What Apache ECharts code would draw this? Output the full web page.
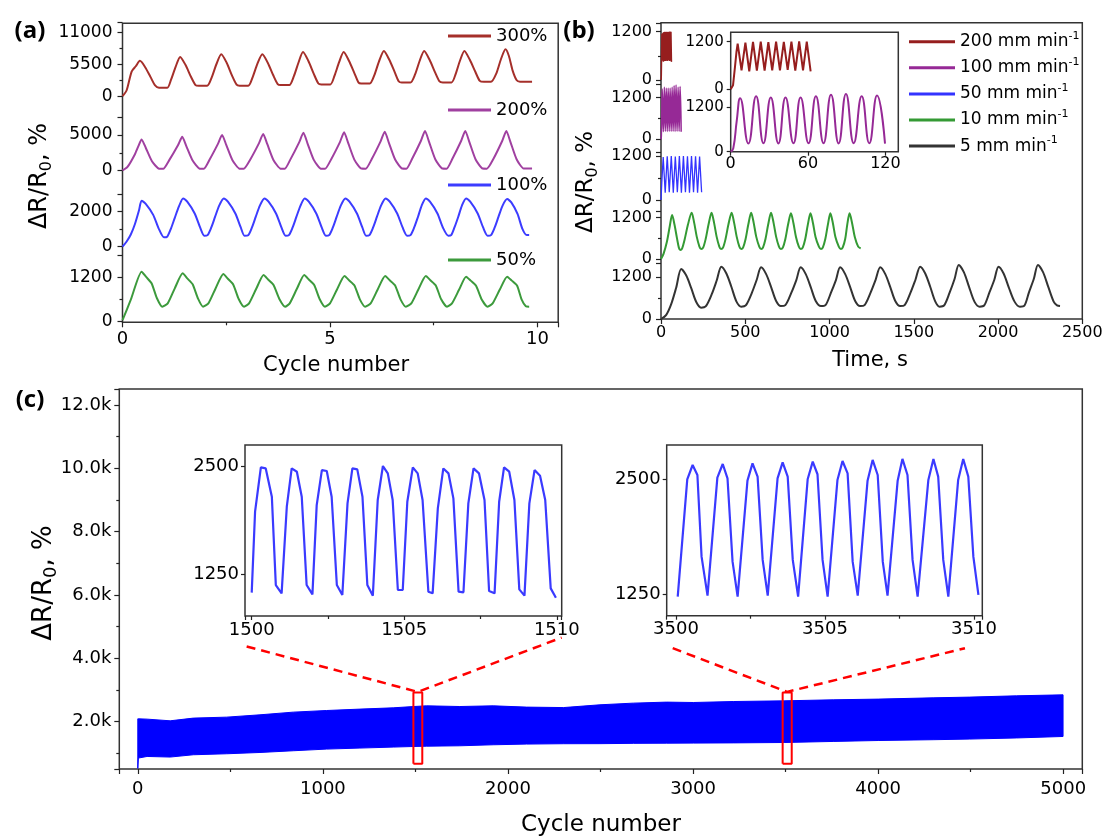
<!DOCTYPE html>
<html>
<head>
<meta charset="utf-8">
<title>ΔR/R0 under cyclic stretching</title>
<script src="https://cdn.jsdelivr.net/npm/echarts@6.0.0/dist/echarts.min.js"></script>
<style>
  body { margin: 0; background: #fff; }
  #chart_box { width: 1107px; height: 837px; }
</style>
</head>
<body>
<div id="chart_box"></div>
<script>
// (a) ΔR/R0 vs cycle number for four strain amplitudes, [cycle, %]
const strain300 = [[0,100],[0.1,1100],[0.22,4300],[0.32,5200],[0.42,6120],[0.55,5000],[0.68,3300],[0.78,1990],[0.88,1540],[1.08,1530],
  [1.17,2900],[1.28,5100],[1.39,6800],[1.52,5400],[1.65,3400],[1.76,1990],[1.84,1880],[2.04,1870],
  [2.15,3300],[2.26,5500],[2.38,7260],[2.51,5800],[2.64,3600],[2.75,2050],[2.82,1880],[3.03,1870],
  [3.14,3400],[3.25,5600],[3.37,7260],[3.50,5800],[3.63,3700],[3.74,2150],[3.81,1990],[4.02,1985],
  [4.13,3500],[4.24,5800],[4.35,7650],[4.48,6100],[4.61,3900],[4.72,2250],[4.79,2100],[5.01,2100],
  [5.11,3600],[5.22,5900],[5.33,7650],[5.46,6100],[5.59,4000],[5.69,2400],[5.75,2270],[5.96,2270],
  [6.07,3700],[6.18,6000],[6.30,7820],[6.43,6300],[6.56,4200],[6.66,2600],[6.73,2440],[6.94,2440],
  [7.05,3800],[7.16,6100],[7.27,7820],[7.40,6300],[7.53,4200],[7.64,2600],[7.72,2440],[7.93,2440],
  [8.03,3900],[8.13,6100],[8.24,7820],[8.37,6300],[8.50,4300],[8.61,2700],[8.71,2550],[8.88,2550],
  [9.01,4000],[9.12,6400],[9.23,8100],[9.31,7000],[9.40,4500],[9.50,2800],[9.58,2560],[9.87,2550]];
const strain200 = [[0,0],[0.12,500],[0.30,2300],[0.38,3400],[0.46,4380],[0.56,3200],[0.71,1300],[0.88,260],[0.98,240],
  [1.13,1500],[1.34,3600],[1.44,4760],[1.54,3400],[1.69,1400],[1.86,260],[1.96,240],
  [2.10,1550],[2.30,3750],[2.40,5000],[2.50,3600],[2.65,1450],[2.82,260],[2.92,240],
  [3.08,1550],[3.29,3850],[3.39,5140],[3.49,3700],[3.64,1450],[3.81,260],[3.91,240],
  [4.05,1600],[4.26,4000],[4.36,5330],[4.46,3800],[4.61,1500],[4.78,260],[4.88,240],
  [5.03,1600],[5.24,4000],[5.34,5380],[5.44,3850],[5.59,1500],[5.76,270],[5.86,250],
  [6.01,1650],[6.22,4100],[6.32,5470],[6.42,3900],[6.57,1550],[6.74,270],[6.84,250],
  [6.98,1650],[7.19,4150],[7.29,5570],[7.39,4000],[7.54,1550],[7.71,270],[7.81,250],
  [7.95,1650],[8.16,4150],[8.26,5570],[8.36,4000],[8.51,1550],[8.68,270],[8.78,250],
  [8.94,1650],[9.15,4150],[9.25,5570],[9.35,4000],[9.50,1550],[9.67,280],[9.87,270]];
const strain100 = [[0,0],[0.1,300],[0.2,700],[0.3,1300],[0.4,2100],[0.46,2630],[0.56,2450],[0.74,1820],[0.87,1050],[1.0,533],
  [1.08,580],[1.17,1050],[1.26,1650],[1.36,2300],[1.46,2760],[1.56,2570],[1.74,1900],[1.87,1100],[1.97,630],
  [2.05,660],[2.14,1100],[2.23,1700],[2.33,2350],[2.44,2760],[2.54,2570],[2.72,1900],[2.85,1100],[2.94,630],
  [3.03,660],[3.12,1100],[3.21,1700],[3.31,2350],[3.42,2760],[3.52,2570],[3.70,1900],[3.83,1100],[3.93,630],
  [4.01,660],[4.10,1100],[4.19,1700],[4.29,2350],[4.39,2760],[4.49,2570],[4.67,1900],[4.80,1100],[4.90,630],
  [4.98,660],[5.07,1100],[5.16,1700],[5.26,2350],[5.37,2760],[5.47,2570],[5.65,1900],[5.78,1100],[5.87,630],
  [5.95,660],[6.04,1100],[6.13,1700],[6.23,2350],[6.34,2760],[6.44,2570],[6.62,1900],[6.75,1100],[6.86,630],
  [6.94,660],[7.03,1100],[7.12,1700],[7.21,2350],[7.31,2760],[7.41,2570],[7.59,1900],[7.72,1100],[7.85,630],
  [7.92,660],[8.00,1100],[8.09,1700],[8.18,2350],[8.28,2760],[8.38,2570],[8.56,1900],[8.69,1100],[8.80,630],
  [8.88,660],[8.97,1100],[9.06,1700],[9.16,2350],[9.27,2720],[9.37,2530],[9.52,1870],[9.64,1000],[9.74,667],[9.80,667]];
const strain50 = [[0,40],[0.2,600],[0.46,1364],[0.57,1220],[0.70,1050],[0.83,640],[0.96,409],
  [1.09,500],[1.26,910],[1.45,1318],[1.56,1180],[1.69,1020],[1.82,630],[1.94,409],
  [2.07,500],[2.24,900],[2.43,1300],[2.54,1170],[2.67,1010],[2.80,620],[2.93,409],
  [3.05,500],[3.22,890],[3.40,1273],[3.51,1150],[3.64,1000],[3.78,620],[3.92,409],
  [4.03,500],[4.20,890],[4.38,1273],[4.49,1150],[4.62,1000],[4.75,620],[4.88,409],
  [5.00,500],[5.17,880],[5.35,1245],[5.46,1130],[5.59,990],[5.72,610],[5.85,409],
  [5.98,500],[6.15,880],[6.33,1245],[6.44,1130],[6.57,990],[6.70,610],[6.83,409],
  [6.96,500],[7.13,880],[7.31,1245],[7.42,1130],[7.55,990],[7.68,610],[7.82,409],
  [7.94,500],[8.11,870],[8.28,1227],[8.39,1120],[8.52,980],[8.66,600],[8.80,409],
  [8.92,500],[9.09,870],[9.27,1227],[9.38,1120],[9.51,980],[9.62,600],[9.72,420],[9.80,409]];

// (b) ΔR/R0 vs time for five stretching speeds, [s, %]
const speed200 = [[0,0],[1.8,100],[3.3,560],[4.5,950],[5.4,1150],[8.4,480],[11.4,1175],[14.4,455],[17.3,1195],[20.3,470],
  [23.3,1200],[26.3,470],[29.2,1190],[32.2,480],[35.2,1200],[38.2,475],[41.2,1195],[44.2,490],[47.1,1200],[50.1,470],
  [53.1,1205],[56.1,480],[59,1200],[62,450]];
const speed100 = [[0,0],[2,90],[4.7,840],[7.3,1450],[13.7,220],[19.7,1500],[25.4,230],[31.1,1470],[37,225],[42.5,1470],
  [48.7,230],[54.2,1470],[60.4,230],[66.1,1500],[72,230],[77.8,1545],[83.7,225],[89.4,1565],[95.4,230],[101.6,1500],
  [107.5,230],[113.5,1520],[119.7,220]];
const speed50 = [[0,0],[5,500],[13,1170],[25,200],[37,1190],[49,210],[61,1200],[73,200],[85,1185],[97,210],[109,1200],
  [121,200],[133,1195],[145,210],[157,1190],[169,200],[181,1200],[193,210],[205,1190],[217,200],[229,1185],[241,210]];
const speed10 = [[0,0],[15,150],[35,500],[52,950],[66,1280],[80,1000],[95,600],[106,330],[114,260],[125,300],[140,560],[160,1000],[182,1345],
  [197,1050],[212,650],[228,360],[238,290],[250,330],[265,580],[282,1000],[300,1345],
  [315,1050],[330,650],[346,360],[356,290],[368,330],[383,580],[400,1000],[419,1345],
  [434,1050],[449,650],[465,360],[476,290],[487,330],[502,580],[518,1000],[535,1345],
  [550,1050],[565,650],[583,360],[594,290],[605,330],[620,580],[636,1000],[653,1345],
  [668,1050],[683,650],[700,360],[711,290],[723,330],[738,580],[754,1000],[771,1326],
  [786,1040],[801,640],[818,360],[829,290],[841,330],[856,580],[871,990],[887,1326],
  [902,1040],[917,640],[937,360],[949,290],[960,330],[975,580],[990,990],[1005,1326],
  [1020,1040],[1035,640],[1055,360],[1067,290],[1078,330],[1093,580],[1105,990],[1119,1326],
  [1134,1040],[1150,640],[1170,360],[1185,310]];
const speed5 = [[0,0],[30,110],[60,420],[90,900],[120,1440],
  [150,1250],[180,880],[210,480],[238,326],[265,360],[300,700],[330,1100],[358,1507],
  [388,1310],[418,920],[448,500],[476,355],[503,390],[538,740],[568,1130],[594,1488],
  [624,1290],[654,910],[684,510],[711,374],[738,400],[773,750],[803,1120],[829,1488],
  [859,1290],[889,910],[919,510],[949,374],[976,400],[1008,750],[1038,1120],[1063,1488],
  [1093,1290],[1123,910],[1153,510],[1181,374],[1208,400],[1243,750],[1273,1120],[1301,1488],
  [1331,1290],[1361,910],[1391,510],[1419,374],[1446,400],[1480,750],[1510,1130],[1538,1507],
  [1568,1310],[1598,920],[1628,500],[1653,355],[1680,390],[1712,750],[1742,1150],[1767,1555],
  [1797,1350],[1827,940],[1860,500],[1891,355],[1918,390],[1948,750],[1978,1130],[2003,1507],
  [2033,1310],[2063,920],[2098,500],[2130,355],[2157,390],[2183,760],[2212,1150],[2237,1555],
  [2267,1350],[2297,940],[2330,500],[2350,390],[2368,374]];

// (c) 5000 cycles at 100 %: envelope of the dense trace
const longCycle = [0,3,50,175,300,480,660,840,1020,1200,1380,1490,1560,1740,1920,2100,2300,2497,2677,2857,3001,3217,3496,3757,4000,4297,4495,4747,4999];
const longUpper = [2085,2085,2075,2022,2107,2138,2211,2296,2347,2391,2432,2473,2495,2473,2495,2454,2440,2527,2580,2612,2600,2631,2653,2685,2707,2748,2770,2811,2842];
const longLower = [520,845,896,877,950,981,1022,1076,1129,1161,1192,1211,1220,1233,1265,1287,1298,1300,1310,1315,1318,1325,1337,1370,1400,1425,1445,1480,1527];
// zoomed windows, [cycle, %]
const window1500 = [[1500.0,1033],[1500.11,1976],[1500.3,2492],[1500.46,2480],[1500.66,2150],[1500.79,1122],[1500.98,1025],
  [1501.15,2034],[1501.31,2480],[1501.48,2442],[1501.64,2150],[1501.8,1122],[1501.99,1013],
  [1502.13,2053],[1502.3,2461],[1502.46,2450],[1502.62,2150],[1502.79,1122],[1502.97,1005],
  [1503.14,2073],[1503.3,2480],[1503.46,2469],[1503.63,2150],[1503.79,1122],[1503.97,998],
  [1504.13,2112],[1504.3,2508],[1504.46,2422],[1504.62,2112],[1504.79,1064],[1504.95,1064],
  [1505.1,2092],[1505.28,2492],[1505.44,2422],[1505.6,2112],[1505.79,1044],[1505.93,1025],
  [1506.1,2015],[1506.28,2480],[1506.45,2422],[1506.61,2131],[1506.78,1044],[1506.94,1037],
  [1507.1,2073],[1507.27,2480],[1507.45,2422],[1507.63,2112],[1507.78,1052],[1507.96,1025],
  [1508.11,2092],[1508.27,2492],[1508.44,2442],[1508.61,2112],[1508.77,1071],[1508.94,998],
  [1509.1,2073],[1509.27,2461],[1509.45,2395],[1509.62,2112],[1509.8,1083],[1509.97,974]];
const window3500 = [[3500.06,1221],[3500.38,2500],[3500.56,2656],[3500.72,2547],[3500.86,1657],[3501.06,1232],
  [3501.39,2518],[3501.57,2667],[3501.73,2511],[3501.9,1602],[3502.07,1221],
  [3502.4,2485],[3502.57,2674],[3502.74,2529],[3502.91,1621],[3503.08,1232],
  [3503.41,2511],[3503.58,2685],[3503.75,2529],[3503.92,1621],[3504.1,1221],
  [3504.42,2500],[3504.59,2693],[3504.75,2555],[3504.92,1621],[3505.09,1221],
  [3505.42,2493],[3505.59,2700],[3505.76,2565],[3505.93,1602],[3506.1,1232],
  [3506.43,2485],[3506.6,2711],[3506.77,2547],[3506.94,1602],[3507.1,1232],
  [3507.44,2485],[3507.6,2722],[3507.77,2547],[3507.94,1621],[3508.11,1221],
  [3508.47,2493],[3508.64,2722],[3508.8,2529],[3508.97,1621],[3509.14,1221],
  [3509.47,2493],[3509.64,2722],[3509.81,2529],[3509.98,1657],[3510.15,1239]];
// red boxes on the long run and the dashed guides to the windows
const markBox1 = [[1489,665],[1537,665],[1537,2915],[1489,2915],[1489,665]];
const markBox2 = [[3484,665],[3533,665],[3533,2915],[3484,2915],[3484,665]];
const guide1 = [[588,4370],[1513,2935],[2290,4650]];
const guide2 = [[2890,4315],[3508,2935],[4469,4315]];

const strainNames = ['300%', '200%', '100%', '50%'];
const speedNames = ['200 mm min', '100 mm min', '50 mm min', '10 mm min', '5 mm min'];

const FONT = 'DejaVu Sans';
const INK = '#222';
const C300 = '#a52f2a', C200 = '#a040a0', C100 = '#3c3cff', C50 = '#3c9a3c';
const V200 = '#961e1e', V100 = '#962996', V50 = '#3333ff', V10 = '#349a34', V5 = '#333333';

function grid(left, top, width, height, frame) {
  let g = { left: left, top: top, width: width, height: height, outerBoundsMode: 'none' };
  if (frame) {
    g.show = true;
    g.borderColor = '#333';
    g.borderWidth = 1.5;
    g.backgroundColor = '#fff';
  }
  return g;
}

function hidden(gi, min, max) {
  return { type: 'value', gridIndex: gi, min: min, max: max, show: false };
}

function ticked(gi, min, max, o) {
  return {
    type: 'value', gridIndex: gi, min: min, max: max,
    interval: o.interval, minInterval: o.step, maxInterval: o.step,
    axisLine: { show: false, onZero: false },
    axisTick: { length: o.tick || 5, lineStyle: { color: INK, width: 1.2 } },
    minorTick: { show: o.minor !== false, splitNumber: 2, length: 3, lineStyle: { color: INK, width: 1.2 } },
    splitLine: { show: false },
    axisLabel: {
      fontFamily: FONT, fontSize: o.size, color: '#000', margin: o.margin,
      showMinLabel: o.showMin !== false, showMaxLabel: !!o.showMax,
      formatter: o.formatter || (v => String(v))
    }
  };
}

function line(name, xi, data, color, width, smooth) {
  return {
    name: name, type: 'line', xAxisIndex: xi, yAxisIndex: xi, data: data,
    symbol: 'none', smooth: smooth || false, silent: true,
    lineStyle: { color: color, width: width }, itemStyle: { color: color }
  };
}

function yTitle(x, y, size) {
  let sub = Math.round(size * 0.68);
  return {
    type: 'text', x: x, y: y, rotation: Math.PI / 2, silent: true,
    style: {
      text: '{m|ΔR/R}{s|0}{m|, %}', fill: '#000',
      align: 'center', verticalAlign: 'middle',
      rich: {
        m: { fontFamily: FONT, fontSize: size, lineHeight: size + 6, fill: '#000' },
        s: { fontFamily: FONT, fontSize: sub, lineHeight: sub, verticalAlign: 'bottom', fill: '#000' }
      }
    }
  };
}

function plainText(text, x, y, font) {
  return {
    type: 'text', x: x, y: y, silent: true,
    style: { text: text, font: font, fill: '#000', align: 'center', verticalAlign: 'middle' }
  };
}

function legendA(name, top) {
  return {
    data: [name], left: 448, top: top, padding: 0, icon: 'rect', itemWidth: 43, itemHeight: 3,
    selectedMode: false, textStyle: { fontFamily: FONT, fontSize: 18, color: '#000', lineHeight: 22 }
  };
}

var myecharts = echarts.init(document.getElementById('chart_box'));

let option = {
  animation: false,
  backgroundColor: '#fff',
  grid: [
    grid(122.5, 23.3, 435.7, 299, true),   // 0 frame (a)
    grid(122.5, 22.35, 435.7, 74.35),      // 1 300%
    grid(122.5, 117.25, 435.7, 53.25),     // 2 200%
    grid(122.5, 194.2, 435.7, 52.5),       // 3 100%
    grid(122.5, 255.7, 435.7, 66),         // 4 50%
    grid(661, 22.7, 421.3, 296.3, true),   // 5 frame (b)
    grid(661, 23.65, 421.3, 56.35),        // 6
    grid(661, 83.8, 421.3, 55.5),          // 7
    grid(661, 152.3, 421.3, 47.7),         // 8
    grid(661, 210.8, 421.3, 48.2),         // 9
    grid(661, 263.4, 421.3, 55.6),         // 10
    grid(730.7, 32.3, 167.6, 57),          // 11 inset brown
    grid(730.7, 89.3, 167.6, 62.4),        // 12 inset purple
    grid(730.7, 32.3, 167.6, 119.4, true), // 13 inset frame
    grid(119.3, 389, 963, 380, true),      // 14 (c)
    grid(245, 445, 316.7, 171, true),      // 15 window 1500
    grid(666.7, 445, 315.6, 170.7, true)   // 16 window 3500
  ],
  xAxis: [
    ticked(0, 0, 10.5, { interval: 5, size: 18, margin: 8 }),
    hidden(1, 0, 10.5), hidden(2, 0, 10.5), hidden(3, 0, 10.5), hidden(4, 0, 10.5),
    ticked(5, 0, 2500, { interval: 500, size: 16, margin: 6, minor: false, showMax: true }),
    hidden(6, 0, 2500), hidden(7, 0, 2500), hidden(8, 0, 2500), hidden(9, 0, 2500), hidden(10, 0, 2500),
    hidden(11, 0, 130), hidden(12, 0, 130),
    ticked(13, 0, 130, { interval: 60, size: 16, margin: 4, minor: false, tick: 4 }),
    ticked(14, -100, 5103, { step: 1000, size: 18, margin: 11, showMin: false }),
    ticked(15, 1499.78, 1510.16, { step: 5, size: 18, margin: 5, showMin: false, tick: 4 }),
    ticked(16, 3499.69, 3510.28, { step: 5, size: 18, margin: 5, showMin: false, tick: 4 })
  ],
  yAxis: [
    hidden(0, 0, 1),
    ticked(1, 0, 12700, { interval: 5500, size: 17, margin: 10 }),
    ticked(2, 0, 7500, { interval: 5000, size: 17, margin: 10 }),
    ticked(3, 0, 3000, { interval: 2000, size: 17, margin: 10 }),
    ticked(4, 0, 1800, { interval: 1200, size: 17, margin: 10 }),
    hidden(5, 0, 1),
    ticked(6, 0, 1400, { interval: 1200, size: 16, margin: 9 }),
    ticked(7, 0, 1600, { interval: 1200, size: 16, margin: 9 }),
    ticked(8, 0, 1300, { interval: 1200, size: 16, margin: 9 }),
    ticked(9, 0, 1400, { interval: 1200, size: 16, margin: 9 }),
    ticked(10, 0, 1600, { interval: 1200, size: 16, margin: 9 }),
    ticked(11, 0, 1437, { interval: 1200, size: 15, margin: 7, minor: false, tick: 4 }),
    ticked(12, 0, 1690, { interval: 1200, size: 15, margin: 7, minor: false, tick: 4 }),
    hidden(13, 0, 1),
    ticked(14, 500, 12500, { step: 2000, size: 18, margin: 8, showMin: false,
      formatter: v => (v / 1000).toFixed(1) + 'k' }),
    ticked(15, 761, 2753, { step: 1250, size: 18, margin: 6, showMin: false, minor: false, tick: 4 }),
    ticked(16, 1013, 2874, { step: 1250, size: 18, margin: 6, showMin: false, minor: false, tick: 4 })
  ],
  legend: [
    legendA(strainNames[0], 25),
    legendA(strainNames[1], 99),
    legendA(strainNames[2], 174),
    legendA(strainNames[3], 249),
    {
      data: speedNames, orient: 'vertical', left: 909, top: 30.7, itemGap: 6.6, padding: 0,
      icon: 'rect', itemWidth: 46, itemHeight: 3, selectedMode: false,
      formatter: name => '{t|' + name + '}{s|-1}',
      textStyle: {
        color: '#000',
        rich: {
          t: { fontFamily: FONT, fontSize: 17, lineHeight: 22, color: '#000' },
          s: { fontFamily: FONT, fontSize: 11, lineHeight: 11, verticalAlign: 'top', color: '#000' }
        }
      }
    }
  ],
  graphic: [
    plainText('(a)', 30, 31, 'bold 24px "Open Sans"'),
    plainText('(b)', 579, 31, 'bold 24px "Open Sans"'),
    plainText('(c)', 30, 400, 'bold 24px "Open Sans"'),
    yTitle(40, 176, 24),
    yTitle(586, 182, 23),
    yTitle(44, 583, 26),
    plainText('Cycle number', 336, 366, '21px "DejaVu Sans"'),
    plainText('Time, s', 870, 361, '21px "DejaVu Sans"'),
    plainText('Cycle number', 601, 825, '23px "DejaVu Sans"')
  ],
  series: [
    line(strainNames[0], 1, strain300, C300, 2, 0.25),
    line(strainNames[1], 2, strain200, C200, 2, 0.2),
    line(strainNames[2], 3, strain100, C100, 2, 0.25),
    line(strainNames[3], 4, strain50, C50, 2, 0.2),

    line(speedNames[0], 6, speed200, V200, 1.5),
    line(speedNames[1], 7, speed100, V100, 1.5, 0.5),
    line(speedNames[2], 8, speed50, V50, 1.3),
    line(speedNames[3], 9, speed10, V10, 2, 0.3),
    line(speedNames[4], 10, speed5, V5, 2, 0.3),
    line(speedNames[0], 11, speed200, V200, 2),
    line(speedNames[1], 12, speed100, V100, 2, 0.5),

    // long run: filled band between the lower and upper envelope
    {
      type: 'custom', xAxisIndex: 14, yAxisIndex: 14, silent: true,
      data: [[0, longUpper[0]]],
      renderItem: function (params, api) {
        let pts = [];
        for (let i = 0; i < longCycle.length; i++) pts.push(api.coord([longCycle[i], longUpper[i]]));
        for (let i = longCycle.length - 1; i >= 0; i--) pts.push(api.coord([longCycle[i], longLower[i]]));
        return {
          type: 'polygon', shape: { points: pts },
          style: { fill: '#0000ff', stroke: '#0000ff', lineWidth: 1 }
        };
      }
    },
    Object.assign(line('', 14, markBox1, '#ff0000', 2), { z: 5 }),
    Object.assign(line('', 14, markBox2, '#ff0000', 2), { z: 5 }),
    Object.assign(line('', 14, guide1, '#ff0000', 2.5), { z: 5, clip: false }),
    Object.assign(line('', 14, guide2, '#ff0000', 2.5), { z: 5, clip: false }),
    line('', 15, window1500, '#3a3aff', 2.2),
    line('', 16, window3500, '#3a3aff', 2.2)
  ]
};

// dashed guides
option.series[14].lineStyle.type = [9, 6];
option.series[15].lineStyle.type = [9, 6];

myecharts.setOption(option);
</script>
</body>
</html>
